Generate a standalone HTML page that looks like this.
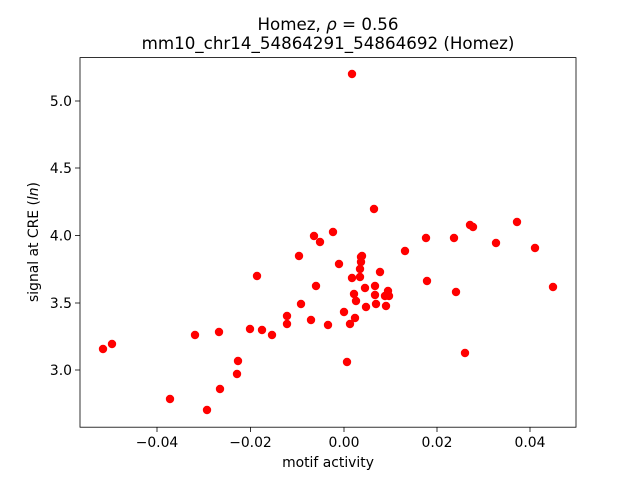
<!DOCTYPE html>
<html><head><style>body{margin:0;background:#fff}svg{display:block}text{font-family:"DejaVu Sans","Liberation Sans",sans-serif;fill:#000}</style></head>
<body>
<svg width="640" height="480" xmlns="http://www.w3.org/2000/svg">
<rect width="640" height="480" fill="#fff"/>
<g fill="#ff0000">
<circle cx="352" cy="74" r="4.2"/><circle cx="374" cy="209" r="4.2"/><circle cx="333" cy="232" r="4.2"/><circle cx="314" cy="236" r="4.2"/><circle cx="320" cy="242" r="4.2"/><circle cx="362" cy="256" r="4.2"/><circle cx="426" cy="238" r="4.2"/><circle cx="405" cy="251" r="4.2"/><circle cx="454" cy="238" r="4.2"/><circle cx="496" cy="243" r="4.2"/><circle cx="517" cy="222" r="4.2"/><circle cx="535" cy="248" r="4.2"/><circle cx="470" cy="225" r="4.2"/><circle cx="473" cy="227" r="4.2"/><circle cx="257" cy="276" r="4.2"/><circle cx="299" cy="256" r="4.2"/><circle cx="316" cy="286" r="4.2"/><circle cx="339" cy="264" r="4.2"/><circle cx="361" cy="257" r="4.2"/><circle cx="361" cy="262" r="4.2"/><circle cx="360" cy="269" r="4.2"/><circle cx="360" cy="277" r="4.2"/><circle cx="352" cy="278" r="4.2"/><circle cx="375" cy="286" r="4.2"/><circle cx="388" cy="291" r="4.2"/><circle cx="380" cy="272" r="4.2"/><circle cx="427" cy="281" r="4.2"/><circle cx="456" cy="292" r="4.2"/><circle cx="553" cy="287" r="4.2"/><circle cx="375" cy="295" r="4.2"/><circle cx="389" cy="296" r="4.2"/><circle cx="354" cy="294" r="4.2"/><circle cx="356" cy="301" r="4.2"/><circle cx="365" cy="288" r="4.2"/><circle cx="385" cy="296" r="4.2"/><circle cx="366" cy="307" r="4.2"/><circle cx="386" cy="306" r="4.2"/><circle cx="376" cy="304" r="4.2"/><circle cx="301" cy="304" r="4.2"/><circle cx="250" cy="329" r="4.2"/><circle cx="262" cy="330" r="4.2"/><circle cx="219" cy="332" r="4.2"/><circle cx="195" cy="335" r="4.2"/><circle cx="272" cy="335" r="4.2"/><circle cx="287" cy="316" r="4.2"/><circle cx="287" cy="324" r="4.2"/><circle cx="311" cy="320" r="4.2"/><circle cx="328" cy="325" r="4.2"/><circle cx="344" cy="312" r="4.2"/><circle cx="355" cy="318" r="4.2"/><circle cx="350" cy="324" r="4.2"/><circle cx="103" cy="349" r="4.2"/><circle cx="112" cy="344" r="4.2"/><circle cx="238" cy="361" r="4.2"/><circle cx="237" cy="374" r="4.2"/><circle cx="347" cy="362" r="4.2"/><circle cx="465" cy="353" r="4.2"/><circle cx="170" cy="399" r="4.2"/><circle cx="220" cy="389" r="4.2"/><circle cx="207" cy="410" r="4.2"/>
</g>
<rect x="80" y="57.6" width="496" height="369.6" fill="none" stroke="#000" stroke-width="0.8"/>
<g stroke="#000" stroke-width="0.8">
<line x1="157" y1="427" x2="157" y2="432"/><line x1="250.5" y1="427" x2="250.5" y2="432"/><line x1="344" y1="427" x2="344" y2="432"/><line x1="437" y1="427" x2="437" y2="432"/><line x1="530" y1="427" x2="530" y2="432"/>
<line x1="75" y1="101" x2="80" y2="101"/><line x1="75" y1="168" x2="80" y2="168"/><line x1="75" y1="235.5" x2="80" y2="235.5"/><line x1="75" y1="303" x2="80" y2="303"/><line x1="75" y1="370" x2="80" y2="370"/>
</g>
<g font-size="13.9" text-anchor="middle">
<text x="157" y="447">−0.04</text><text x="250.5" y="447">−0.02</text><text x="344" y="447">0.00</text><text x="437" y="447">0.02</text><text x="530" y="447">0.04</text>
</g>
<g font-size="13.9" text-anchor="end">
<text x="72" y="106">5.0</text><text x="72" y="173">4.5</text><text x="72" y="240.5">4.0</text><text x="72" y="308">3.5</text><text x="72" y="375">3.0</text>
</g>
<text x="328" y="467" font-size="13.9" text-anchor="middle">motif activity</text>
<text transform="translate(38,242) rotate(-90)" font-size="13.9" text-anchor="middle">signal at CRE (<tspan font-style="italic">ln</tspan>)</text>
<text x="328" y="30" font-size="16.7" text-anchor="middle">Homez, <tspan font-style="italic">ρ</tspan> = 0.56</text>
<text x="328" y="49" font-size="16.7" text-anchor="middle">mm10_chr14_54864291_54864692 (Homez)</text>
</svg>
</body></html>
